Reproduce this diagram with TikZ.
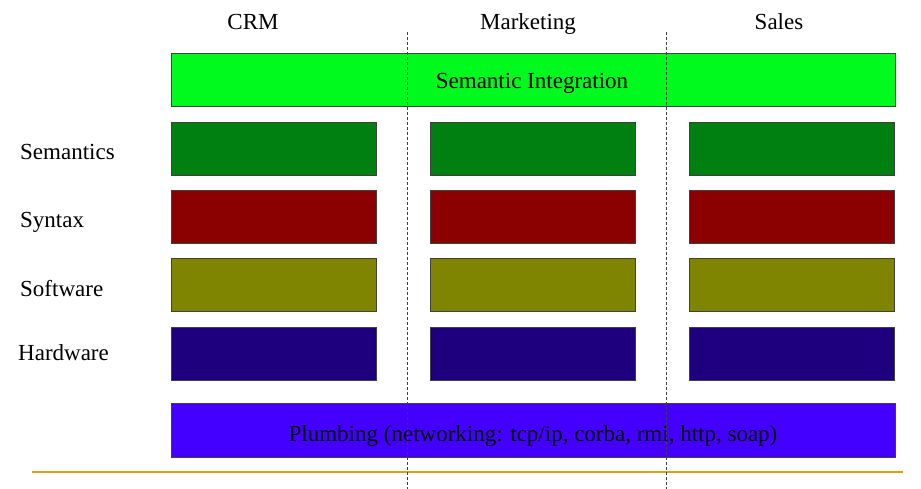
\documentclass[tikz,border=0pt]{standalone}
\usepackage{fontspec}
\setmainfont{Liberation Serif}
\begin{document}
\begin{tikzpicture}[x=1pt,y=-1pt,
  txt/.style={font=\fontsize{23}{26}\selectfont,inner sep=0pt,anchor=base},
  layer/.style={draw=black!75,line width=0.8pt,inner sep=0pt},
  rowlabel/.style={txt,anchor=base west},
  divider/.style={draw=black!75,dash pattern=on 3pt off 2pt,line width=0.8pt}]
\useasboundingbox (0,0) rectangle (921,489);
\definecolor{integ}{RGB}{0,250,30}
\definecolor{sem}{RGB}{0,128,16}
\definecolor{syn}{RGB}{139,0,0}
\definecolor{soft}{RGB}{127,133,0}
\definecolor{hard}{RGB}{30,0,127}
\definecolor{plumb}{RGB}{68,0,255}
\definecolor{base}{RGB}{218,160,20}

% column headings
\node[txt] (crm) at (253,30) {CRM};
\node[txt] (mkt) at (528,30) {Marketing};
\node[txt] (sales) at (779,30) {Sales};

% top integration layer
\draw[layer,fill=integ] (171,53) rectangle (895,106);
\node[txt] (si) at (532,89) {Semantic Integration};

% per-application layers
\foreach \y/\col in {122/sem,190/syn,258/soft,327/hard}{
  \foreach \x in {171,430,689}{
    \draw[layer,fill=\col] (\x,\y) rectangle ++(205,53);
  }
}

% row labels
\node[rowlabel] (lsem) at (20,160) {Semantics};
\node[rowlabel] (lsyn) at (20,228) {Syntax};
\node[rowlabel] (lsoft) at (20,296) {Software};
\node[rowlabel] (lhard) at (18,360) {Hardware};

% plumbing layer
\draw[layer,fill=plumb] (171,403) rectangle (895,457);
\node[txt] (pl) at (533,441) {Plumbing (networking: tcp/ip, corba, rmi, http, soap)};

% base line
\coordinate (b1) at (32,472);
\coordinate (b2) at (903,472);
\draw[base,line width=1.5pt] (b1) -- (b2);

% column dividers
\coordinate (d1t) at (407,32);
\coordinate (d1b) at (407,489);
\coordinate (d2t) at (666,32);
\coordinate (d2b) at (666,489);
\draw[divider] (d1t) -- (d1b);
\draw[divider] (d2t) -- (d2b);
\end{tikzpicture}
\end{document}
